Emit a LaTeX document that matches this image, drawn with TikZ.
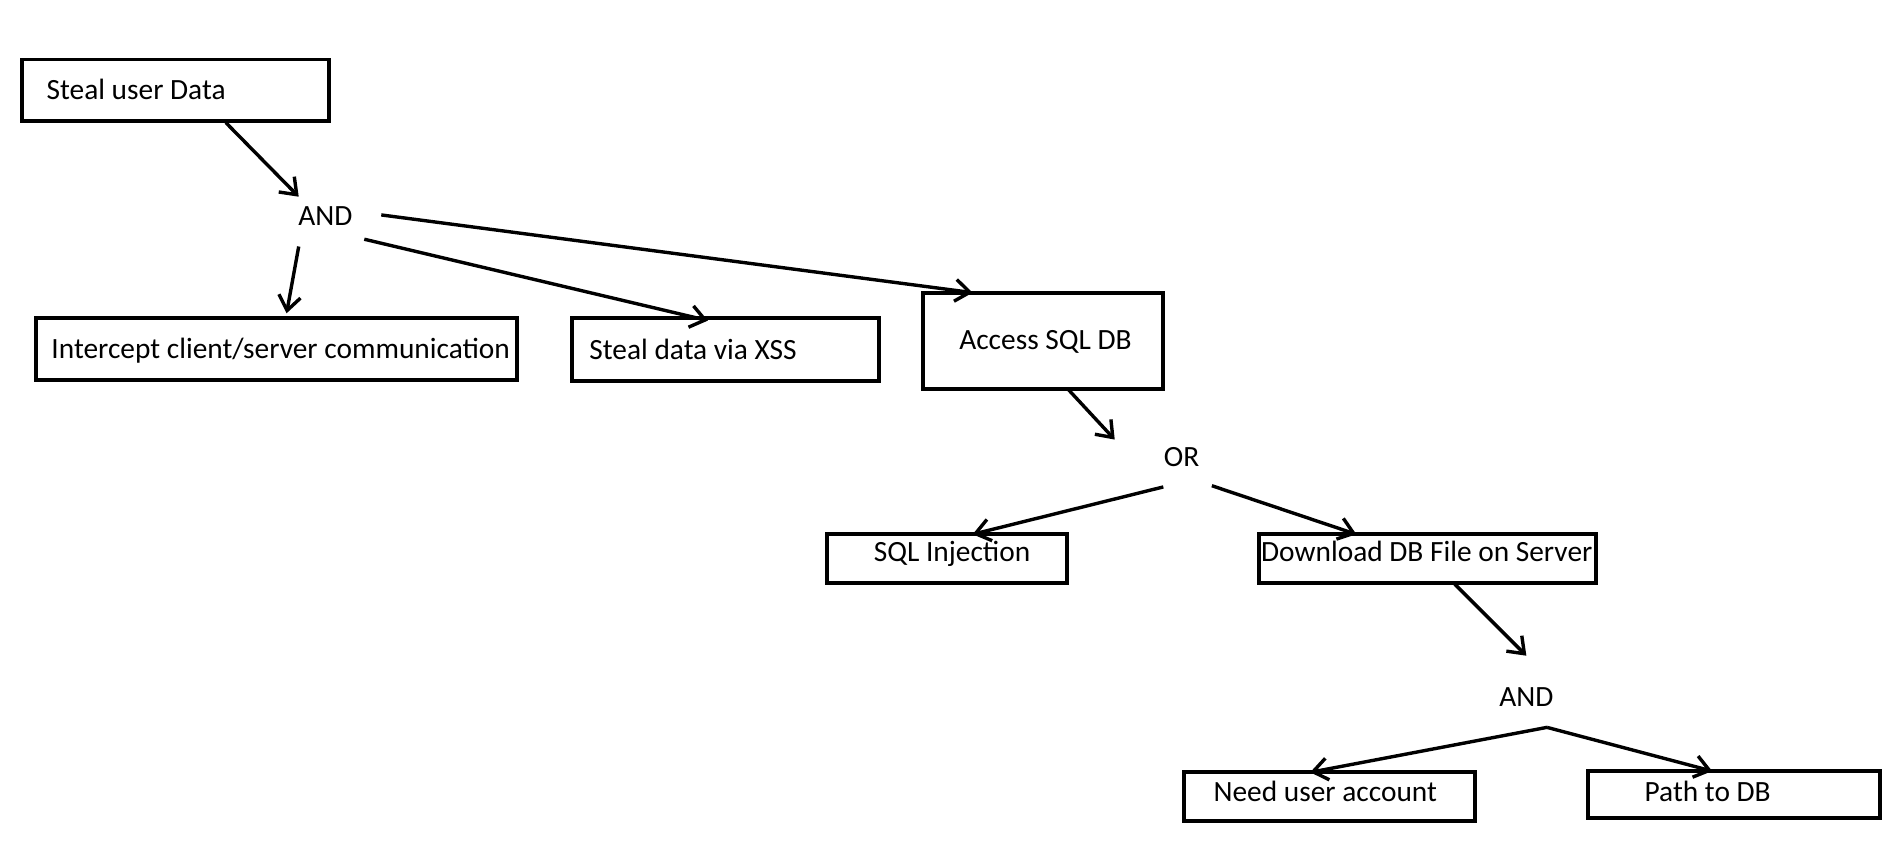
\documentclass[tikz,border=0pt]{standalone}
\usepackage{fontspec}
\setmainfont{Carlito}
\usetikzlibrary{arrows.meta,calc}
\begin{document}
\begin{tikzpicture}[x=0.5pt,y=-0.5pt,
  box/.style={draw, line width=1.6pt, inner sep=0pt, outer sep=0pt, anchor=north west},
  lbl/.style={inner sep=0pt, font=\fontsize{12.1pt}{14pt}\selectfont},
  conn/.style={line width=1.4pt, -{Straight Barb[length=6pt,width=9pt,line width=1.4pt]}}]
\fill[white] (0,0) rectangle (1568,702);
\useasboundingbox (0,0) rectangle (1568,702);
% boxes
\node[box, minimum width=253*0.5pt, minimum height=51*0.5pt] (b1) at (18,49) {};
\node[box, minimum width=396*0.5pt, minimum height=51*0.5pt] (b2) at (30,262) {};
\node[box, minimum width=253*0.5pt, minimum height=52*0.5pt] (b3) at (471,262) {};
\node[box, minimum width=198*0.5pt, minimum height=79*0.5pt] (b4) at (760,241) {};
\node[box, minimum width=198*0.5pt, minimum height=40*0.5pt] (b5) at (681,440) {};
\node[box, minimum width=277*0.5pt, minimum height=40*0.5pt] (b6) at (1037,440) {};
\node[box, minimum width=240*0.5pt, minimum height=40*0.5pt] (b7) at (975,636) {};
\node[box, minimum width=240*0.5pt, minimum height=39*0.5pt] (b8) at (1308,635) {};
% texts
\node[lbl, anchor=base west] (t1) at (38,82) {Steal user Data};
\node[lbl, anchor=base west] (t2) at (42,295) {Intercept client/server communication};
\node[lbl, anchor=base west] (t3) at (485,296) {Steal data via XSS};
\node[lbl, anchor=base] (t4) at (861,288) {Access SQL DB};
\node[lbl, anchor=base] (t5) at (784,462) {SQL Injection};
\node[lbl, anchor=base] (t6) at (1175,462) {Download DB File on Server};
\node[lbl, anchor=base west] (t7) at (999,660) {Need user account};
\node[lbl, anchor=base west] (t8) at (1354,660) {Path to DB};
% gates
\node[lbl] (a1) at (268,178) {AND};
\node[lbl] (or) at (973,376) {OR};
\node[lbl] (a2) at (1257,574) {AND};
% connectors
\draw[conn] ($(b1.south west)+(168,1)$) -- ($(a1.center)+(-22,-16)$);
\draw[conn] ($(a1.center)+(-22,25)$) -- ($(b2.north west)+(206,-4)$);
\draw[conn] ($(a1.center)+(32,19)$) -- ($(b3.north west)+(112,2)$);
\draw[conn] ($(a1.center)+(46,-1)$) -- ($(b4.north west)+(41,0)$);
\draw[conn] ($(b4.south west)+(120,1)$) -- ($(or.center)+(-55,-14)$);
\draw[conn] ($(or.center)+(-15,25)$) -- ($(b5.north west)+(120,0)$);
\draw[conn] ($(or.center)+(25,24)$) -- ($(b6.north west)+(80,0)$);
\draw[conn] ($(b6.south west)+(161,1)$) -- ($(a2.center)+(0,-34)$);
\coordinate (a2out) at ($(a2.center)+(17,25)$);
\draw[conn, line join=round] (a2out) -- ($(b7.north west)+(104,0)$);
\draw[conn, line join=round] (a2out) -- ($(b8.north west)+(102,0)$);
\end{tikzpicture}
\end{document}
